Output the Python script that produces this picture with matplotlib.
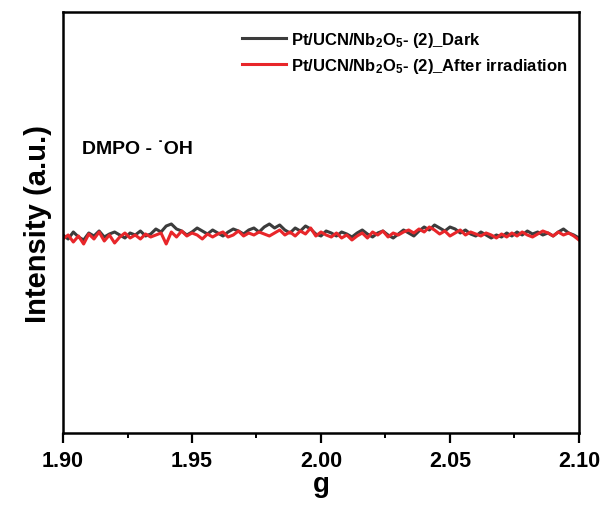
import numpy as np
import matplotlib
matplotlib.use("Agg")
import matplotlib.pyplot as plt
from matplotlib.ticker import MultipleLocator

plt.rcParams["font.family"] = ["Liberation Sans", "DejaVu Sans"]
plt.rcParams["font.weight"] = "bold"
plt.rcParams["mathtext.fontset"] = "custom"
plt.rcParams["mathtext.rm"] = "Liberation Sans:bold"
plt.rcParams["mathtext.bf"] = "Liberation Sans:bold"
plt.rcParams["mathtext.default"] = "rm"

# g values, 1.90 -> 2.10
g = np.linspace(1.90, 2.10, 101)

# signal intensity (a.u.)
dark = [198, 194, 201, 196, 193, 200, 197, 202, 196, 199,
        201, 198, 195, 200, 198, 202, 197, 199, 204, 201,
        207, 209, 204, 202, 198, 201, 205, 202, 199, 203,
        200, 197, 201, 204, 202, 199, 203, 205, 201, 206,
        209, 205, 208, 203, 200, 205, 202, 207, 204, 199,
        197, 202, 200, 197, 201, 199, 196, 200, 203, 199,
        196, 200, 202, 198, 195, 199, 203, 200, 197, 202,
        206, 203, 208, 205, 202, 206, 204, 200, 203, 199,
        197, 201, 198, 195, 198, 196, 200, 197, 201, 198,
        202, 199, 201, 198, 200, 197, 201, 204, 200, 198, 195]

after = [194, 198, 191, 197, 189, 199, 194, 201, 192, 198,
         190, 196, 200, 195, 198, 194, 199, 196, 198, 200,
         189, 201, 196, 202, 197, 200, 198, 194, 199, 196,
         199, 201, 196, 198, 202, 197, 200, 198, 201, 199,
         197, 200, 203, 198, 201, 197, 202, 199, 205, 197,
         201, 198, 196, 200, 195, 198, 193, 197, 200, 195,
         201, 198, 202, 196, 200, 198, 201, 203, 200, 204,
         201, 206, 203, 199, 202, 197, 200, 203, 198, 201,
         199, 197, 200, 198, 195, 199, 196, 200, 197, 201,
         198, 196, 199, 202, 200, 197, 201, 198, 200, 197, 193]

labels = [r"Pt/UCN/Nb$_2$O$_5$- (2)_Dark",
          r"Pt/UCN/Nb$_2$O$_5$- (2)_After irradiation"]

fig = plt.figure(figsize=(6.07, 5.06), dpi=100)
ax = fig.add_axes((0.1038, 0.1423, 0.850, 0.832))

ax.plot(g, dark, color="#3c3c3c", linewidth=2.2, label=labels[0])
ax.plot(g, after, color="#e8262a", linewidth=2.2, label=labels[1])

ax.set_xlim(1.90, 2.10)
ax.set_ylim(0, 421)
ax.xaxis.set_major_locator(MultipleLocator(0.05))
ax.xaxis.set_minor_locator(MultipleLocator(0.025))
ax.xaxis.set_major_formatter(matplotlib.ticker.FormatStrFormatter("%.2f"))
ax.set_yticks([])
ax.tick_params(axis="x", which="major", direction="out", length=7, width=1.6,
               labelsize=15.5, pad=5)
ax.tick_params(axis="x", which="minor", direction="out", length=3.5, width=1.4)
for s in ax.spines.values():
    s.set_linewidth(1.8)

ax.set_xlabel("g", fontsize=20, fontweight="bold", labelpad=0)
ax.set_ylabel("Intensity (a.u.)", fontsize=21, fontweight="bold", labelpad=8)

ax.text(0.036, 0.675, "DMPO - ˙OH", transform=ax.transAxes, fontsize=14,
        fontweight="bold", va="center")

ax.legend(loc="upper right", bbox_to_anchor=(1.0, 0.985), frameon=False,
          fontsize=12, handlelength=2.6, handletextpad=0.3, labelspacing=0.4,
          borderaxespad=0.3)

fig.savefig("out.png", dpi=100)
